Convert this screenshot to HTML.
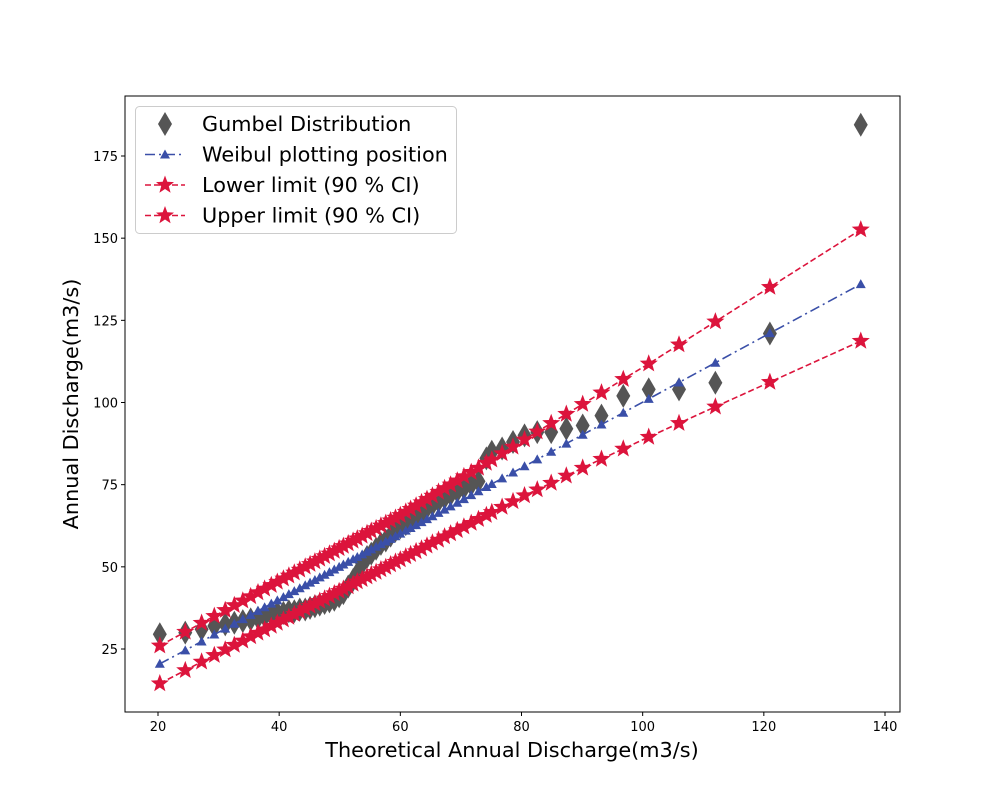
<!DOCTYPE html>
<html><head><meta charset="utf-8"><style>body{margin:0;background:#fff}svg{display:block;font-family:"DejaVu Sans","Liberation Sans",sans-serif}</style></head>
<body>
<svg id="chart" width="1000" height="800"></svg>
<script>
const xVals=[20.3,24.5,27.2,29.3,31.1,32.6,34.0,35.3,36.5,37.6,38.7,39.7,40.7,41.6,42.5,43.4,44.3,45.1,45.9,46.7,47.5,48.3,49.1,49.9,50.6,51.4,52.2,52.9,53.7,54.5,55.2,56.0,56.8,57.6,58.4,59.2,60.0,60.9,61.7,62.6,63.5,64.4,65.3,66.3,67.3,68.3,69.4,70.5,71.7,72.9,74.2,75.1,76.8,78.6,80.5,82.6,84.9,87.4,90.1,93.2,96.8,101,106,112,121,136];
const gumbelY=[29.5,30,31,32,32.5,33,33.5,34,34.5,35,35.5,36,36,36.5,36.5,37,37,37.5,38,38.5,39,39.5,40,41,42,44,46,48,51,53,54,55.5,57,58,59.5,61,62,63,64,65,66.5,68,69,70,71,72,73,74,75,76,83,85,86,88,90,91,91,92,93,96,102,104,104,106,121,184.5];
const weibulY=[20.5,24.6,27.3,29.4,31.2,32.7,34.1,35.4,36.6,37.7,38.8,39.8,40.8,41.7,42.6,43.5,44.4,45.2,46.0,46.8,47.6,48.4,49.2,50.0,50.7,51.5,52.3,53.0,53.8,54.6,55.3,56.1,56.9,57.7,58.5,59.3,60.1,61.0,61.8,62.7,63.6,64.5,65.4,66.4,67.4,68.4,69.5,70.6,71.8,73.0,74.3,75.2,76.9,78.7,80.6,82.7,85.0,87.5,90.2,93.3,96.9,101.1,106.1,112.1,121.1,136.0];
const lowerY=[14.5,18.5,21.1,23.1,24.8,26.2,27.5,28.8,29.9,30.9,32.0,32.9,33.9,34.7,35.6,36.4,37.3,38.1,38.8,39.6,40.3,41.1,41.9,42.6,43.3,44.0,44.8,45.5,46.2,47.0,47.7,48.4,49.2,49.9,50.7,51.5,52.2,53.1,53.8,54.7,55.5,56.4,57.3,58.2,59.2,60.1,61.1,62.2,63.3,64.5,65.7,66.6,68.2,69.9,71.7,73.5,75.5,77.7,80.1,82.8,85.9,89.5,93.7,98.7,106.2,118.7];
const upperY=[26,30.2,32.9,35,36.8,38.3,39.7,41,42.2,43.3,44.4,45.4,46.4,47.3,48.2,49.1,50,50.8,51.6,52.4,53.2,54,54.8,55.6,56.3,57.1,57.9,58.6,59.4,60.2,60.9,61.7,62.5,63.3,64.1,64.9,65.7,66.7,67.6,68.6,69.6,70.6,71.6,72.8,73.9,75,76.2,77.5,78.8,80.1,81.6,82.6,84.5,86.5,88.7,91.1,93.7,96.5,99.5,103,107.1,111.8,117.6,124.6,135.1,152.6];
const xTicks=[20,40,60,80,100,120,140];
const yTicks=[25,50,75,100,125,150,175];
const NS="http://www.w3.org/2000/svg";
const svg=document.getElementById('chart');
const L=125,R=900,T=96,B=712;
const sx=v=>158+(v-20)*(727/120);
const sy=v=>649-(v-25)*(493/150);
function el(tag,attrs,parent){const e=document.createElementNS(NS,tag);for(const k in attrs)e.setAttribute(k,attrs[k]);(parent||svg).appendChild(e);return e;}
function starPts(cx,cy,r){let p=[];for(let i=0;i<10;i++){const a=-Math.PI/2+i*Math.PI/5;const rr=i%2?r*0.42:r;p.push((cx+rr*Math.cos(a)).toFixed(1)+','+(cy+rr*Math.sin(a)).toFixed(1));}return p.join(' ');}
function diamond(cx,cy,g){return el('polygon',{points:`${cx},${cy-12} ${cx+7},${cy} ${cx},${cy+12} ${cx-7},${cy}`,fill:'#555555'},g);}
function tri(cx,cy,g){return el('polygon',{points:`${cx},${cy-5} ${cx+5},${cy+4} ${cx-5},${cy+4}`,fill:'#3a4fa8'},g);}
function star(cx,cy,g){return el('polygon',{points:starPts(cx,cy,9.5),fill:'#dc143c'},g);}

const frame=el('rect',{x:L,y:T,width:R-L,height:B-T,fill:'none',stroke:'#000','stroke-width':1});


xTicks.forEach(t=>{const x=sx(t);
 const tk=el('line',{x1:x,y1:B,x2:x,y2:B+4,stroke:'#000'});
 
 
 const tl=el('text',{x:x,y:B+19,'font-size':13,'text-anchor':'middle'});tl.textContent=t;
 
 });
yTicks.forEach(t=>{const y=sy(t);
 const tk=el('line',{x1:L-4,y1:y,x2:L,y2:y,stroke:'#000'});
 
 
 const tl=el('text',{x:L-7,y:y+5,'font-size':13,'text-anchor':'end'});tl.textContent=t;
 
 });
const xl=el('text',{x:512,y:757,'font-size':20.8,'text-anchor':'middle'});xl.textContent='Theoretical Annual Discharge(m3/s)';


const yl=el('text',{x:0,y:0,'font-size':20.8,'text-anchor':'middle',transform:'translate(78,404) rotate(-90)'});yl.textContent='Annual Discharge(m3/s)';



const gG=el('g',{});


xVals.forEach((x,i)=>{const d=diamond(sx(x),sy(gumbelY[i]),gG);
 
 });
const wG=el('g',{});


el('polyline',{points:xVals.map((x,i)=>sx(x)+','+sy(weibulY[i])).join(' '),fill:'none',stroke:'#3a4fa8','stroke-width':1.6,'stroke-dasharray':'10 4 2 4'},wG);
xVals.forEach((x,i)=>{const t=tri(sx(x),sy(weibulY[i]),wG);
 
 });
function starSeries(arr,name){const g=el('g',{});
 
 
 el('polyline',{points:xVals.map((x,i)=>sx(x)+','+sy(arr[i])).join(' '),fill:'none',stroke:'#dc143c','stroke-width':1.6,'stroke-dasharray':'6 3'},g);
 xVals.forEach((x,i)=>{const s=star(sx(x),sy(arr[i]),g);
  
  });}
starSeries(lowerY,'lower-limit-series');
starSeries(upperY,'upper-limit-series');

const lg=el('g',{});


el('rect',{x:135.5,y:106.5,width:321,height:127,rx:4,fill:'#fff','fill-opacity':0.85,stroke:'#ccc'},lg);
const items=[['Gumbel Distribution','g'],['Weibul plotting position','w'],['Lower limit (90 % CI)','s'],['Upper limit (90 % CI)','s']];
items.forEach((it,i)=>{const y=124+i*30.5;
 const e=el('g',{},lg);
 
 
 if(it[1]=='g')diamond(165,y,e);
 else if(it[1]=='w'){el('line',{x1:145,y1:y,x2:185,y2:y,stroke:'#3a4fa8','stroke-width':1.6,'stroke-dasharray':'10 4 2 4'},e);tri(165,y,e);}
 else {el('line',{x1:145,y1:y,x2:185,y2:y,stroke:'#dc143c','stroke-width':1.6,'stroke-dasharray':'6 3'},e);star(165,y,e);}
 const t=el('text',{x:202,y:y+7,'font-size':20.8},e);t.textContent=it[0];});
</script>
</body></html>
